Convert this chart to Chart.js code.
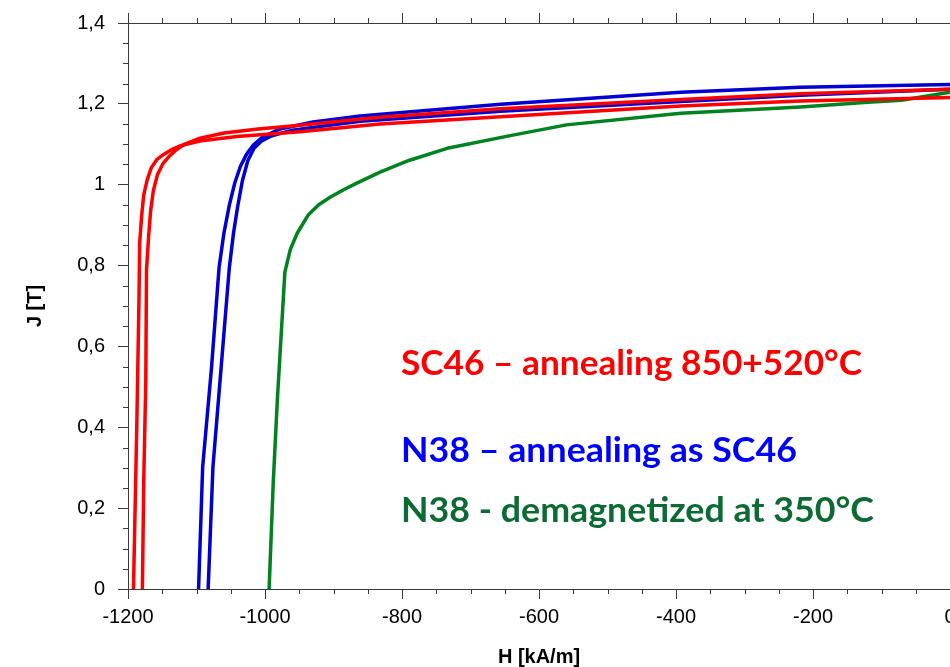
<!DOCTYPE html>
<html>
<head>
<meta charset="utf-8">
<script src="https://cdn.jsdelivr.net/npm/chart.js@4.4.1/dist/chart.umd.min.js"></script>
<style>
    html, body { margin: 0; padding: 0; background: #fff; }
</style>
</head>
<body>
<canvas id="bhChart" width="950" height="667"></canvas>
<script>

// Demagnetization curves, H in kA/m, J in T

// SC46 - two samples
const sc46aH = [-1192, -1187, -1184, -1183, -1180, -1177, -1172, -1166, -1158, -1148, -1136, -1124, -1095, -1041, -949, -832, -656, -393, -218, 0];
const sc46aJ = [0, 0.418, 0.714, 0.855, 0.925, 0.975, 1.012, 1.042, 1.062, 1.075, 1.087, 1.096, 1.108, 1.119, 1.131, 1.150, 1.168, 1.195, 1.207, 1.216];

const sc46bH = [-1179, -1177, -1174, -1173, -1170, -1167, -1163, -1157, -1149, -1140, -1129, -1118, -1095, -1060, -1010, -949, -832, -656, -393, -218, 0];
const sc46bJ = [0, 0.269, 0.517, 0.789, 0.870, 0.935, 0.985, 1.025, 1.052, 1.070, 1.087, 1.100, 1.115, 1.128, 1.138, 1.147, 1.167, 1.188, 1.211, 1.225, 1.236];

// N38 annealed - two samples
const n38aH = [-1097, -1091, -1078, -1067, -1060, -1052, -1044, -1036, -1027, -1017, -1004, -978, -930, -861, -656, -393, -218, 0];
const n38aJ = [0, 0.302, 0.549, 0.796, 0.880, 0.950, 1.005, 1.045, 1.075, 1.098, 1.117, 1.138, 1.155, 1.170, 1.199, 1.229, 1.241, 1.248];

const n38bH = [-1083, -1076, -1064, -1052, -1046, -1040, -1033, -1025, -1016, -1005, -990, -960, -861, -656, -393, -218, 0];
const n38bJ = [0, 0.302, 0.549, 0.796, 0.880, 0.945, 1.010, 1.060, 1.090, 1.108, 1.121, 1.135, 1.157, 1.182, 1.206, 1.221, 1.236];

// N38 demagnetized at 350 C
const n38dH = [-994, -988, -982, -971, -963, -953, -937, -922, -905, -886, -866, -832, -790, -734, -640, -560, -393, -218, -120, -71, 0];
const n38dJ = [0, 0.262, 0.467, 0.784, 0.840, 0.880, 0.925, 0.950, 0.969, 0.987, 1.004, 1.031, 1.060, 1.090, 1.122, 1.148, 1.177, 1.192, 1.204, 1.209, 1.229];

// Axes
const xTicks = [-1200, -1000, -800, -600, -400, -200, 0];
const yTicks = [0, 0.2, 0.4, 0.6, 0.8, 1, 1.2, 1.4];
const xMinorStep = 50;
const yMinorStep = 0.05;

const noteTexts = [
    "SC46 – annealing 850+520°C",
    "N38 – annealing as SC46",
    "N38 - demagnetized at 350°C"
];

const RED = "#ff0000";
const BLUE = "#0000d2";
const GREEN = "#00821e";
const AXIS = "#3a3a3a";

function toPoints(h, j) {
    return h.map((v, i) => ({ x: v, y: j[i] }));
}

function curve(h, j, color) {
    return {
        data: toPoints(h, j),
        borderColor: color,
        backgroundColor: color,
        borderWidth: 3.5,
        borderJoinStyle: "round",
        showLine: true,
        pointRadius: 0,
        tension: 0
    };
}

// minor ticks, top frame line
const frameTicks = {
    id: "frameTicks",
    afterDraw(chart) {
        const { ctx, chartArea: a, scales: { x, y } } = chart;
        ctx.save();
        ctx.strokeStyle = AXIS;
        ctx.lineWidth = 1;
        ctx.beginPath();
        ctx.moveTo(a.left, Math.round(a.top) + 0.5);
        ctx.lineTo(a.right, Math.round(a.top) + 0.5);
        for (let v = xTicks[0]; v <= xTicks[xTicks.length - 1]; v += xMinorStep) {
            const px = Math.round(x.getPixelForValue(v)) + 0.5;
            const major = xTicks.includes(v);
            if (!major) {
                ctx.moveTo(px, a.bottom);
                ctx.lineTo(px, a.bottom + 5);
            }
            ctx.moveTo(px, a.top);
            ctx.lineTo(px, a.top - (major ? 10 : 5));
        }
        const n = Math.round(yTicks[yTicks.length - 1] / yMinorStep);
        for (let i = 1; i < n; i++) {
            if (i % 4 === 0) continue;
            const py = Math.round(y.getPixelForValue(i * yMinorStep)) + 0.5;
            ctx.moveTo(a.left - 5, py);
            ctx.lineTo(a.left, py);
        }
        ctx.stroke();
        ctx.restore();
    }
};

// coloured notes inside the plot
const notes = {
    id: "notes",
    afterDraw(chart) {
        const ctx = chart.ctx;
        const spots = [
            { y: 375, w: 461, color: "#ff0000" },
            { y: 462, w: 396, color: "#0000ff" },
            { y: 522, w: 473, color: "#0b6b33" }
        ];
        ctx.save();
        ctx.font = "bold 34px Lato, 'Open Sans', sans-serif";
        ctx.textBaseline = "alphabetic";
        noteTexts.forEach((t, i) => {
            const s = spots[i];
            const w = ctx.measureText(t).width;
            ctx.save();
            ctx.translate(401, s.y);
            ctx.scale(s.w / w, 1);
            ctx.fillStyle = s.color;
            ctx.fillText(t, 0, 0);
            ctx.restore();
        });
        ctx.restore();
    }
};

const fmt = v => String(+v.toFixed(1)).replace(".", ",");

new Chart(document.getElementById("bhChart"), {
    type: "scatter",
    data: {
        datasets: [
            curve(sc46aH, sc46aJ, RED),
            curve(sc46bH, sc46bJ, RED),
            curve(n38aH, n38aJ, BLUE),
            curve(n38bH, n38bJ, BLUE),
            curve(n38dH, n38dJ, GREEN)
        ]
    },
    options: {
        responsive: false,
        animation: false,
        devicePixelRatio: 1,
        layout: {
            padding: { top: 23, right: 0, left: 0, bottom: 0 }
        },
        plugins: {
            legend: { display: false },
            tooltip: { enabled: false }
        },
        scales: {
            x: {
                type: "linear",
                position: "bottom",
                min: xTicks[0],
                max: xTicks[xTicks.length - 1],
                afterBuildTicks: s => { s.ticks = xTicks.map(v => ({ value: v })); },
                afterFit: s => {
                    s.height = 78;
                    s.paddingLeft = 0;
                    s.paddingRight = 0;
                },
                grid: {
                    drawOnChartArea: false,
                    tickLength: 10,
                    color: AXIS
                },
                border: { color: AXIS, width: 1 },
                ticks: {
                    color: "#000",
                    font: { family: "Arial, 'Liberation Sans'", size: 20 },
                    padding: 6,
                    maxRotation: 0,
                    autoSkip: false,
                    callback: v => fmt(v)
                },
                title: {
                    display: true,
                    text: "H [kA/m]",
                    color: "#000",
                    font: { family: "Arial, 'Liberation Sans'", size: 20, weight: "bold" },
                    padding: { top: 0, bottom: -2 }
                }
            },
            y: {
                type: "linear",
                min: yTicks[0],
                max: yTicks[yTicks.length - 1],
                afterBuildTicks: s => { s.ticks = yTicks.map(v => ({ value: v })); },
                afterFit: s => {
                    s.width = 128;
                    s.paddingTop = 0;
                    s.paddingBottom = 0;
                },
                grid: {
                    drawOnChartArea: false,
                    tickLength: 10,
                    color: AXIS
                },
                border: { color: AXIS, width: 1 },
                ticks: {
                    color: "#000",
                    font: { family: "Arial, 'Liberation Sans'", size: 20 },
                    padding: 13,
                    callback: v => fmt(v)
                },
                title: {
                    display: true,
                    text: "J [T]",
                    color: "#000",
                    font: { family: "Arial, 'Liberation Sans'", size: 20, weight: "bold" },
                    padding: { top: 23, bottom: 0 }
                }
            }
        }
    },
    plugins: [frameTicks, notes]
});
</script>
</body>
</html>
